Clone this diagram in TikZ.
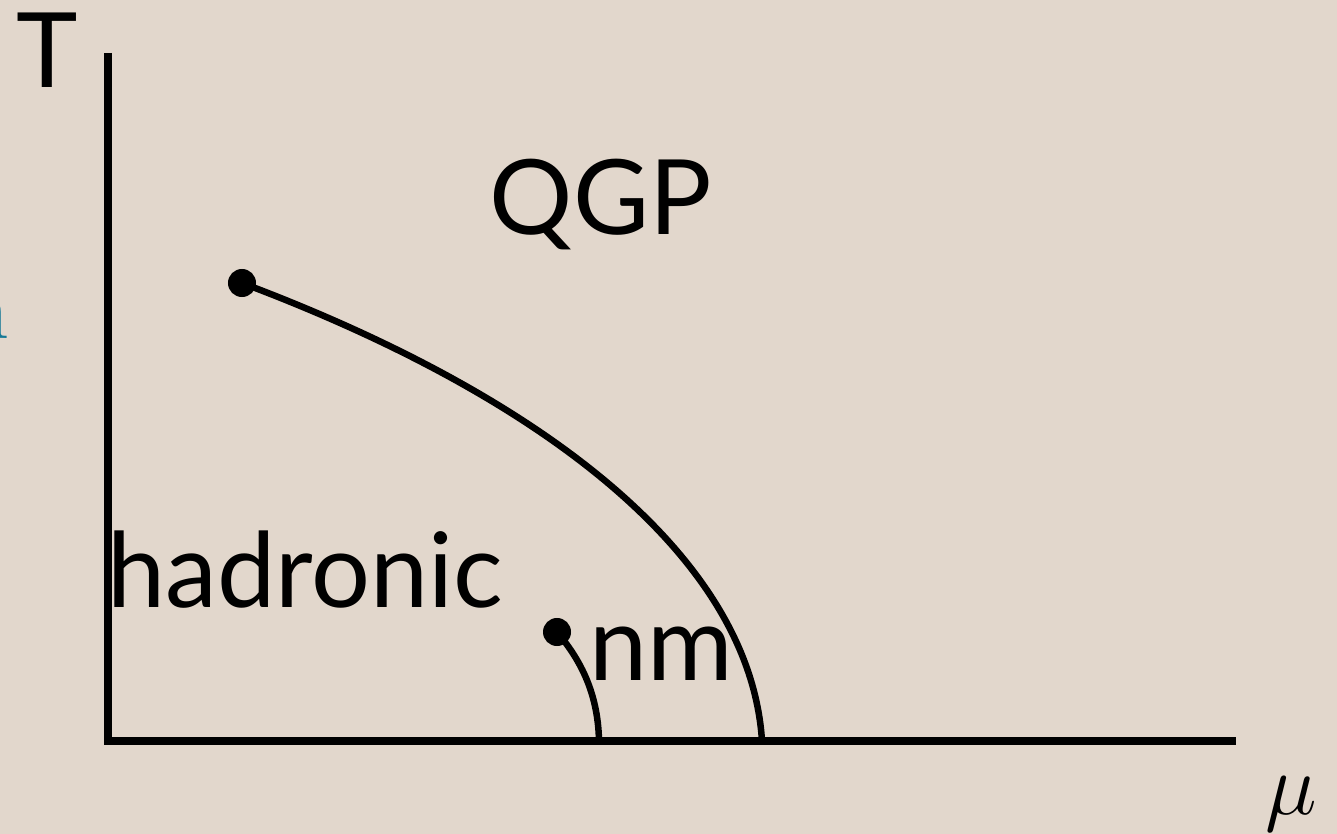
\documentclass[tikz,border=0pt]{standalone}
\usepackage{fontspec}
\setmainfont{Lato}
\definecolor{slidebg}{RGB}{226,215,204}
\definecolor{fragteal}{RGB}{20,120,150}

\begin{document}
\begin{tikzpicture}[x=0.01cm, y=-0.01cm,
    axis/.style={line width=0.08cm, black},
    transition/.style={line width=0.065cm, black},
    crit/.style={circle, fill=black, inner sep=0pt, minimum size=0.28cm},
    phase/.style={anchor=base west, inner sep=0pt, font=\fontsize{29.6}{30}\selectfont}]

% Slide background
\useasboundingbox (0,0) rectangle (1337,834);
\fill[slidebg] (0,0) rectangle (1337,834);

% Cut-off text at the left edge
\node[anchor=base east, inner sep=0pt, text=fragteal,
      font=\fontfamily{lmr}\fontsize{24.5}{25}\selectfont] (frag) at (10.5,339) {n};

% Axes
\coordinate (ttop) at (108,53);
\coordinate (origin) at (108,741);
\coordinate (mutip) at (1236,741);
\draw[axis] (ttop) -- (origin) -- (mutip);
\node[phase] (tlab) at (16,88) {T};
\node[anchor=base west, inner sep=0pt, font=\fontsize{27.8}{28}\selectfont] (mulab) at (1265,814) {$\mu$};

% Critical end points
\node[crit] (cp) at (242,283) {};
\node[crit] (nmcp) at (557,632) {};
\coordinate (qgpend) at (762,741);
\coordinate (nmend) at (599,741);

% Transition lines
\draw[transition] (cp.center) .. controls (540,395) and (750,555) .. (qgpend);
\draw[transition] (nmcp.center) .. controls (578,657) and (598,690) .. (nmend);

% Phases
\node[phase] (qgp) at (489,235) {QGP};
\node[phase] (hadr) at (107,607) {hadronic};
\node[phase] (nm) at (589,680) {nm};

\end{tikzpicture}
\end{document}
